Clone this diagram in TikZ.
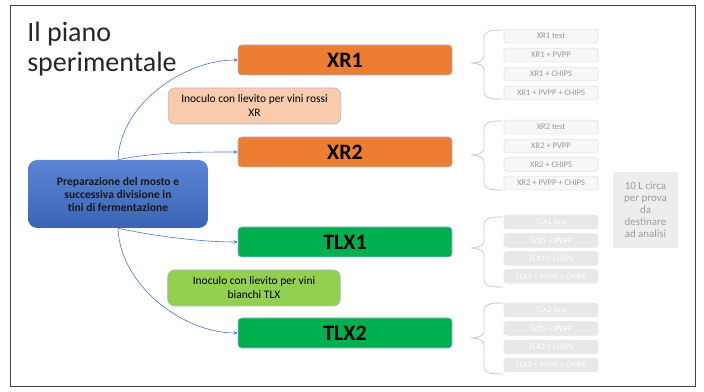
\documentclass[tikz,border=0pt]{standalone}
\usepackage{fontspec}
\setmainfont{Carlito}
\usetikzlibrary{arrows.meta}
\definecolor{orng}{HTML}{ED7D31}
\definecolor{grn}{HTML}{00B050}
\definecolor{lgrn}{HTML}{92D050}
\definecolor{pink}{HTML}{F8CBAD}
\definecolor{bluetop}{HTML}{5B86D4}
\definecolor{bluebot}{HTML}{3A63B6}
\definecolor{conncol}{HTML}{4A76C6}
\definecolor{bordcol}{HTML}{A9B8D4}
\definecolor{bracecol}{HTML}{CFCFCF}
\tikzset{
  mainbox/.style={draw=bordcol, line width=0.4pt, rounded corners=2.5pt, minimum width=160.5pt, minimum height=22.5pt, inner sep=0pt, font=\fontsize{16.5}{18}\selectfont\bfseries},
  inocbox/.style={draw=bordcol, line width=0.4pt, rounded corners=5pt, minimum width=129.5pt, minimum height=27pt, inner sep=0pt, align=center, font=\fontsize{8.6}{10.5}\selectfont},
  xrsmall/.style={draw=black!12, fill=black!3, line width=0.4pt, rounded corners=2pt, minimum width=70.5pt, minimum height=10.2pt, inner sep=0pt, text=black!40, font=\fontsize{6.4}{7}\selectfont},
  tlxsmall/.style={draw=black!9, fill=black!9, line width=0.4pt, rounded corners=2pt, minimum width=70.5pt, minimum height=10.2pt, inner sep=0pt, text=white, font=\fontsize{6.4}{7}\selectfont},
  conn/.style={draw=conncol, line width=0.45pt, -{Stealth[length=3pt,width=2.6pt]}},
  bracestyle/.style={draw=bracecol, line width=0.7pt},
}
\begin{document}
\begin{tikzpicture}[x=0.75pt,y=-0.75pt]
\useasboundingbox (0,0) rectangle (704,392);
\fill[white] (0,0) rectangle (704,392);
\draw[black!75, line width=0.6pt] (10,5) rectangle (695,386);

% title
\node[anchor=base west, inner sep=0pt, align=left, font=\fontsize{21}{22.5}\selectfont, text=black!85] (title) at (27,72) {Il piano\\sperimentale};

% central box
\node[draw=none, rounded corners=7pt, top color=bluetop, bottom color=bluebot, minimum width=135pt, minimum height=51pt, inner sep=0pt, align=center, font=\fontsize{8.7}{9.75}\selectfont\bfseries, text=black!90] (prep) at (118,194) {Preparazione del mosto e\\successiva divisione in\\tini di fermentazione};

% main boxes
\node[mainbox, fill=orng] (xr1) at (345,60) {XR1};
\node[mainbox, fill=orng] (xr2) at (345,152) {XR2};
\node[mainbox, fill=grn] (tlx1) at (345,242) {TLX1};
\node[mainbox, fill=grn] (tlx2) at (345,333) {TLX2};

% inoculum boxes
\node[inocbox, fill=pink] (inr) at (254.5,106) {Inoculo con lievito per vini rossi\\XR};
\node[inocbox, fill=lgrn] (inb) at (254,288) {Inoculo con lievito per vini\\bianchi TLX};

% connectors
\draw[conn] (prep.north) to[out=88,in=180,looseness=0.9] (xr1.west);
\draw[conn] (prep.north) to[out=12,in=180,looseness=0.8] (xr2.west);
\draw[conn] (prep.south) to[out=-12,in=180,looseness=0.8] (tlx1.west);
\draw[conn] (prep.south) to[out=-88,in=180,looseness=0.9] (tlx2.west);

% small boxes
\node[xrsmall] (a1) at (551,36) {XR1 test};
\node[xrsmall] (a2) at (551,55) {XR1 + PVPP};
\node[xrsmall] (a3) at (551,74) {XR1 + CHIPS};
\node[xrsmall] (a4) at (551,93) {XR1 + PVPP + CHIPS};

\node[xrsmall] (b1) at (551,127) {XR2 test};
\node[xrsmall] (b2) at (551,146) {XR2 + PVPP};
\node[xrsmall] (b3) at (551,164.5) {XR2 + CHIPS};
\node[xrsmall] (b4) at (551,183) {XR2 + PVPP + CHIPS};

\node[tlxsmall] (c1) at (551,222) {TLX1 test};
\node[tlxsmall] (c2) at (551,240.5) {TLX1 + PVPP};
\node[tlxsmall] (c3) at (551,258.5) {TLX1 + CHIPS};
\node[tlxsmall] (c4) at (551,276.5) {TLX1 + PVPP + CHIPS};

\node[tlxsmall] (d1) at (551,310) {TLX2 test};
\node[tlxsmall] (d2) at (551,328.5) {TLX2 + PVPP};
\node[tlxsmall] (d3) at (551,347) {TLX2 + CHIPS};
\node[tlxsmall] (d4) at (551,365) {TLX2 + PVPP + CHIPS};

% braces
\draw[bracestyle] (503,30) .. controls (490,30) and (484,31) .. (484,38) -- (484,56) .. controls (484,61) and (478,63) .. (471,63) .. controls (478,63) and (484,65) .. (484,70) -- (484,92) .. controls (484,98) and (490,99) .. (503,99);
\draw[bracestyle] (503,121) .. controls (490,121) and (484,122) .. (484,129) -- (484,148) .. controls (484,153) and (478,155) .. (471,155) .. controls (478,155) and (484,157) .. (484,162) -- (484,183) .. controls (484,189) and (490,190) .. (503,190);
\draw[bracestyle] (503,217) .. controls (490,217) and (484,218) .. (484,225) -- (484,241) .. controls (484,246) and (478,248) .. (471,248) .. controls (478,248) and (484,250) .. (484,255) -- (484,280) .. controls (484,286) and (490,287) .. (503,287);
\draw[bracestyle] (503,303) .. controls (490,303) and (484,304) .. (484,311) -- (484,331) .. controls (484,336) and (478,338) .. (471,338) .. controls (478,338) and (484,340) .. (484,345) -- (484,367) .. controls (484,373) and (490,374) .. (503,374);

% note box
\node[fill=black!7, minimum width=48.75pt, minimum height=57pt, inner sep=0pt, align=center, text=black!38, font=\fontsize{8.2}{9}\selectfont] (note) at (645.5,210) {10 L circa\\per prova\\da\\destinare\\ad analisi};
\end{tikzpicture}
\end{document}
